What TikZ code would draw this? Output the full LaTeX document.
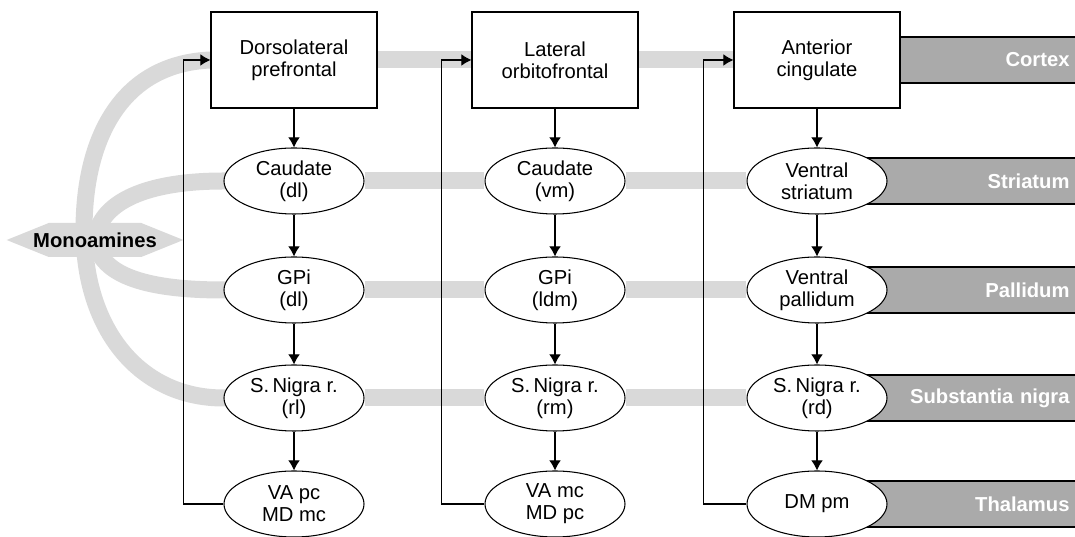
\documentclass[tikz,border=0pt]{standalone}
\usepackage{fontspec}
\setmainfont{Liberation Sans}
\usetikzlibrary{shapes.geometric, shapes.symbols, arrows.meta, positioning, backgrounds}
\definecolor{bandgray}{RGB}{217, 217, 217}
\definecolor{bargray}{RGB}{170, 170, 170}

\tikzset{
    labelfont/.style={font=\fontsize{11.5}{12.6}\selectfont},
    cortexbox/.style={draw, fill=white, line width=0.6pt, minimum width=3.32cm, minimum height=1.92cm, align=center, labelfont},
    nucleus/.style={ellipse, draw, fill=white, line width=0.6pt, minimum width=2.8cm, minimum height=1.32cm, inner sep=0pt, align=center, labelfont},
    band/.style={line width=0.34cm, color=bandgray},
    regionbar/.style={draw, fill=bargray, line width=0.6pt, anchor=west, minimum height=0.92cm, text width=4.68cm, inner xsep=0.36cm, align=right, text=white, font=\fontsize{11.5}{12.6}\selectfont\bfseries},
    monobox/.style={signal, signal to=west and east, signal pointer angle=44, fill=bandgray, minimum height=0.68cm, inner ysep=0pt, inner xsep=-0.31cm, font=\fontsize{11.5}{12.6}\selectfont\bfseries}
}

\begin{document}
\begin{tikzpicture}[>={Latex[length=5.7pt, width=6.6pt]}, line width=0.6pt]
    \useasboundingbox (0, 0) rectangle (21.5, 10.74);

    % cortical areas
    \node[cortexbox] (dlpfc) at (5.88, 9.54) {Dorsolateral\\prefrontal};
    \node[cortexbox] (lofc) at (11.10, 9.54) {Lateral\\orbitofrontal};
    \node[cortexbox] (acc) at (16.34, 9.54) {Anterior\\cingulate};

    % striatum
    \node[nucleus] (cauddl) at (5.88, 7.12) {Caudate\\(dl)};
    \node[nucleus] (caudvm) at (11.10, 7.12) {Caudate\\(vm)};
    \node[nucleus] (vstr) at (16.34, 7.12) {Ventral\\striatum};

    % pallidum
    \node[nucleus] (gpidl) at (5.88, 4.94) {GPi\\(dl)};
    \node[nucleus] (gpildm) at (11.10, 4.94) {GPi\\(ldm)};
    \node[nucleus] (vpal) at (16.34, 4.94) {Ventral\\pallidum};

    % substantia nigra
    \node[nucleus] (snrl) at (5.88, 2.78) {S.\,Nigra r.\\(rl)};
    \node[nucleus] (snrm) at (11.10, 2.78) {S.\,Nigra r.\\(rm)};
    \node[nucleus] (snrd) at (16.34, 2.78) {S.\,Nigra r.\\(rd)};

    % thalamus
    \node[nucleus] (thaldl) at (5.88, 0.66) {VA pc\\MD mc};
    \node[nucleus] (thalof) at (11.10, 0.66) {VA mc\\MD pc};
    \node[nucleus] (thalac) at (16.34, 0.66) {DM pm};

    \node[monobox] (mono) at (1.9, 5.94) {Monoamines};

    \begin{scope}[on background layer]
        \draw[band] (dlpfc) -- (lofc) -- (acc);
        \draw[band] (cauddl) -- (caudvm) -- (vstr);
        \draw[band] (gpidl) -- (gpildm) -- (vpal);
        \draw[band] (snrl) -- (snrm) -- (snrd);

        \draw[band] (dlpfc.center) -- (dlpfc.west) .. controls (2.4, 9.46) and (1.68, 7.94) .. (1.68, 6.14)
            .. controls (1.68, 4.14) and (2.8, 2.78) .. (snrl.west) -- (snrl.center);
        \draw[band] (cauddl.center) -- (cauddl.west) .. controls (3.0, 7.12) and (2.0, 6.74) .. (mono.center);
        \draw[band] (gpidl.center) -- (gpidl.west) .. controls (3.0, 4.94) and (2.0, 5.2) .. (mono.center);

        \node[regionbar] (cortexbar) at (acc.center) {Cortex};
        \node[regionbar] (striatumbar) at (vstr.center) {Striatum};
        \node[regionbar] (pallidumbar) at (vpal.center) {Pallidum};
        \node[regionbar] (nigrabar) at (snrd.center) {Substantia nigra};
        \node[regionbar] (thalamusbar) at (thalac.center) {Thalamus};
    \end{scope}

    \draw[->] (dlpfc) -- (cauddl);
    \draw[->] (cauddl) -- (gpidl);
    \draw[->] (gpidl) -- (snrl);
    \draw[->] (snrl) -- (thaldl);
    \draw[->] (lofc) -- (caudvm);
    \draw[->] (caudvm) -- (gpildm);
    \draw[->] (gpildm) -- (snrm);
    \draw[->] (snrm) -- (thalof);
    \draw[->] (acc) -- (vstr);
    \draw[->] (vstr) -- (vpal);
    \draw[->] (vpal) -- (snrd);
    \draw[->] (snrd) -- (thalac);

    % thalamic feedback
    \draw[->] (thaldl.west) -- ++(-0.80, 0) |- (dlpfc.west);
    \draw[->] (thalof.west) -- ++(-0.86, 0) |- (lofc.west);
    \draw[->] (thalac.west) -- ++(-0.86, 0) |- (acc.west);
\end{tikzpicture}
\end{document}
